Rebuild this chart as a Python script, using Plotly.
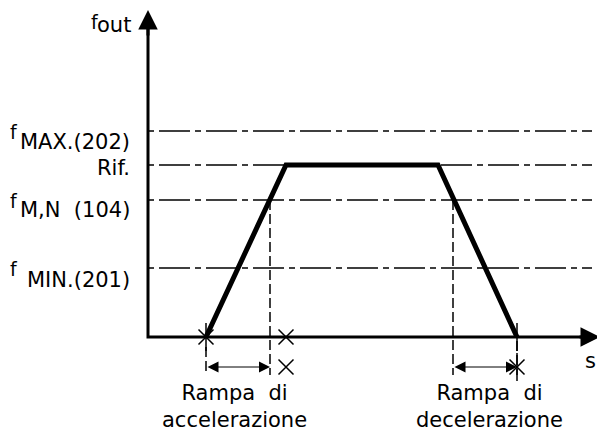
import plotly.graph_objects as go

# valori (unita' arbitrarie, origine = incrocio assi)
t_rampa = [58, 138, 290, 369]
f_rampa = [0, 172, 172, 0]

livelli = [206, 172, 137, 69]
nomi_sub = ["MAX.(202)", "Rif.", "M,N  (104)", "MIN.(201)"]

t_acc_fine = 122
t_dec_inizio = 305
t_croce = 138
y_quota = -30
y_fondo = -38
t_fine_linee = 444

fig = go.Figure()

# linee di riferimento tratto-punto
for f in livelli:
    fig.add_trace(go.Scatter(x=[0, t_fine_linee], y=[f, f], mode="lines",
                             line=dict(color="black", width=1.5, dash="6px,5px,31px,5px"),
                             hoverinfo="skip"))

# linee verticali tratteggiate
for t, f0 in [(t_acc_fine, livelli[2]), (t_dec_inizio, livelli[2]),
              (t_rampa[0], -10), (t_rampa[3], -4)]:
    fig.add_trace(go.Scatter(x=[t, t], y=[f0, y_fondo], mode="lines",
                             line=dict(color="black", width=1.5, dash="10px,4px"),
                             hoverinfo="skip"))

# rampa
fig.add_trace(go.Scatter(x=t_rampa, y=f_rampa, mode="lines",
                         line=dict(color="black", width=5), hoverinfo="skip"))

# assi
fig.add_trace(go.Scatter(x=[0, 0, 440], y=[320, 0, 0], mode="lines",
                         line=dict(color="black", width=3), hoverinfo="skip"))

# simboli
fig.add_trace(go.Scatter(x=[t_rampa[0], t_croce, t_croce, t_rampa[3]],
                         y=[0, 0, y_quota, y_quota], mode="markers",
                         marker=dict(symbol="x-thin-open", size=15, color="black",
                                     line=dict(width=1.5, color="black")),
                         hoverinfo="skip"))
fig.add_trace(go.Scatter(x=[t_rampa[0], t_rampa[3], t_rampa[3]],
                         y=[0, 0, y_quota], mode="markers",
                         marker=dict(symbol="line-ns-open", size=20, color="black",
                                     line=dict(width=1.5, color="black")),
                         hoverinfo="skip"))

font = dict(family="DejaVu Sans", size=21, color="black")
font_f = dict(family="DejaVu Sans", size=19, color="black")

# frecce assi
fig.add_annotation(x=0, y=327, ax=0, ay=300, xref="x", yref="y", axref="x", ayref="y",
                   text="", showarrow=True, arrowhead=2, arrowsize=1.3, arrowwidth=3,
                   arrowcolor="black", standoff=0)
fig.add_annotation(x=452, y=0, ax=430, ay=0, xref="x", yref="y", axref="x", ayref="y",
                   text="", showarrow=True, arrowhead=2, arrowsize=1.3, arrowwidth=3,
                   arrowcolor="black", standoff=0)

# quote
for a, b in [(t_rampa[0], t_acc_fine), (t_dec_inizio, t_rampa[3])]:
    fig.add_annotation(x=b, y=y_quota, ax=a, ay=y_quota, xref="x", yref="y",
                       axref="x", ayref="y", text="", showarrow=True,
                       arrowhead=2, arrowside="end+start", arrowsize=2.2,
                       arrowwidth=1, arrowcolor="black", standoff=0, startstandoff=0)

# etichette asse y
offs = [-11, -3, -10, -12]
for f, nome, o in zip(livelli, nomi_sub, offs):
    fig.add_annotation(x=-16, y=f + o, text=nome, showarrow=False, xanchor="right",
                       yanchor="middle", font=font)
    if nome != "Rif.":
        fig.add_annotation(x=-140, y=f - 1, text="f", showarrow=False, xanchor="left",
                           yanchor="middle", font=font_f)

fig.add_annotation(x=-59, y=315, text="f", showarrow=False, xanchor="left",
                   yanchor="middle", font=font_f)
fig.add_annotation(x=-15, y=312, text="out", showarrow=False, xanchor="right",
                   yanchor="middle", font=font)
fig.add_annotation(x=442, y=-24, text="s", showarrow=False, xanchor="center",
                   yanchor="middle", font=font)

fig.add_annotation(x=86, y=-69, text="Rampa  di<br>accelerazione", showarrow=False,
                   xanchor="center", yanchor="middle", align="center", font=font)
fig.add_annotation(x=341, y=-69, text="Rampa  di<br>decelerazione", showarrow=False,
                   xanchor="center", yanchor="middle", align="center", font=font)

# la pagina ha un margine di 8px: la figura parte da (8, 8)
fig.update_layout(width=597, height=424, margin=dict(l=0, r=0, t=0, b=0),
                  plot_bgcolor="white", paper_bgcolor="white", showlegend=False,
                  xaxis=dict(range=[-140, 457], visible=False, fixedrange=True),
                  yaxis=dict(range=[-95, 329], visible=False, fixedrange=True))

fig.write_html("out.html")
